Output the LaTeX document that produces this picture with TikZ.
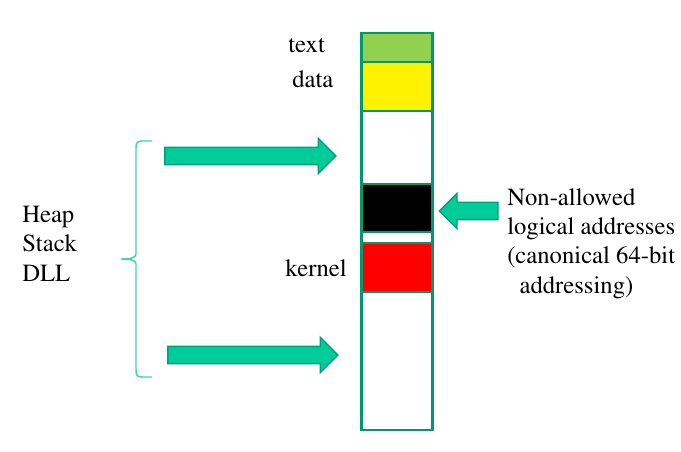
\documentclass[tikz,border=0pt]{standalone}
\usepackage[T1]{fontenc}
\usepackage{mathptmx}
\usepackage{xcolor}
\usepackage{tikz}
\usetikzlibrary{shapes.arrows}

\definecolor{segedge}{HTML}{00996B}
\definecolor{arrowfill}{HTML}{00CC99}
\definecolor{arrowedge}{HTML}{00A07A}
\definecolor{txtgreen}{HTML}{92D050}
\definecolor{bracecol}{HTML}{3CDCA0}

\begin{document}
\begin{tikzpicture}[x=0.75pt, y=-0.75pt,
    seg/.style={draw=segedge, line width=1.6pt, inner sep=0pt, minimum width=53.25pt},
    blockarrow/.style={single arrow, draw=arrowedge, fill=arrowfill, line width=1pt,
      inner sep=0pt, inner ysep=6pt, single arrow head extend=6.75pt, single arrow head indent=0pt},
    lbl/.style={font=\fontsize{18.5}{22}\selectfont, inner sep=0pt}]
  \useasboundingbox (0,0) rectangle (681,452);
  % memory column
  \node[seg, fill=white, minimum height=103.5pt] (low) at (397,361) {};
  \node[seg, fill=red, minimum height=36.75pt] (kern) at (397,267.5) {};
  \node[seg, fill=white, minimum height=8.25pt] (gap) at (397,237.5) {};
  \node[seg, fill=black, minimum height=36pt] (hole) at (397,208) {};
  \node[seg, fill=white, minimum height=54.75pt] (free) at (397,147.5) {};
  \node[seg, fill=yellow, minimum height=36.75pt] (dat) at (397,86.5) {};
  \node[seg, fill=txtgreen, minimum height=21.75pt] (txt) at (397,47.5) {};
  % labels
  \node[lbl, anchor=base west] (txtlbl) at (288,53) {text};
  \node[lbl, anchor=base west] (datlbl) at (292,88) {data};
  \node[lbl, anchor=base west] (kernlbl) at (285,276) {kernel};
  \node[lbl, anchor=base west, align=left] (libs) at (22,281) {Heap\\Stack\\DLL};
  \node[lbl, anchor=base west, align=left] (noaddr) at (507,293)
    {Non-allowed\\logical addresses\\(canonical 64-bit\\\hspace{0.5em}addressing)};
  % arrows
  \node[blockarrow, minimum height=128.25pt, minimum width=25.5pt] (uparrow) at (246,156) {};
  \node[blockarrow, minimum height=127.5pt, minimum width=25.5pt] (lowarrow) at (248.5,355) {};
  \node[blockarrow, shape border rotate=180, minimum height=44pt, minimum width=24pt] (holearrow) at (473,211) {};
  % brace
  \coordinate (bracetop) at (152,141);
  \coordinate (bracetip) at (121,259);
  \coordinate (bracebot) at (152,377);
  \draw[bracecol, line width=1.1pt] (bracetop) -- (142,141) .. controls (137,141) and (136,143) .. (136,148)
    -- (136,254) .. controls (136,258) and (130,259) .. (bracetip)
    .. controls (130,259) and (136,260) .. (136,264) -- (136,370)
    .. controls (136,375) and (137,377) .. (142,377) -- (bracebot);
\end{tikzpicture}
\end{document}
